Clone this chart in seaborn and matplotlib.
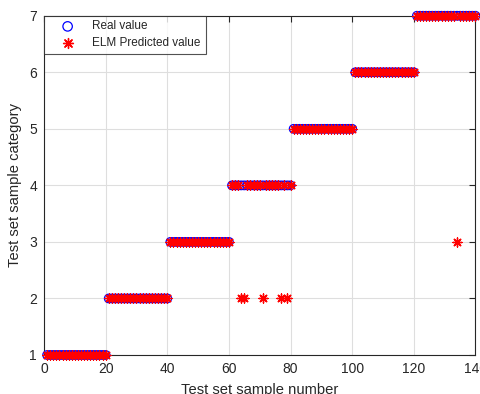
import numpy as np
import pandas as pd
import matplotlib
matplotlib.use("Agg")
import matplotlib.pyplot as plt
import seaborn as sns

# ── Data ────────────────────────────────────────────────────────
sample_no = list(range(1, 141))

real_value = (
    [1, 1, 1, 1, 1, 1, 1, 1, 1, 1, 1, 1, 1, 1, 1, 1, 1, 1, 1, 1]
    + [2, 2, 2, 2, 2, 2, 2, 2, 2, 2, 2, 2, 2, 2, 2, 2, 2, 2, 2, 2]
    + [3, 3, 3, 3, 3, 3, 3, 3, 3, 3, 3, 3, 3, 3, 3, 3, 3, 3, 3, 3]
    + [4, 4, 4, 4, 4, 4, 4, 4, 4, 4, 4, 4, 4, 4, 4, 4, 4, 4, 4, 4]
    + [5, 5, 5, 5, 5, 5, 5, 5, 5, 5, 5, 5, 5, 5, 5, 5, 5, 5, 5, 5]
    + [6, 6, 6, 6, 6, 6, 6, 6, 6, 6, 6, 6, 6, 6, 6, 6, 6, 6, 6, 6]
    + [7, 7, 7, 7, 7, 7, 7, 7, 7, 7, 7, 7, 7, 7, 7, 7, 7, 7, 7, 7]
)

predicted_value = (
    [1, 1, 1, 1, 1, 1, 1, 1, 1, 1, 1, 1, 1, 1, 1, 1, 1, 1, 1, 1]
    + [2, 2, 2, 2, 2, 2, 2, 2, 2, 2, 2, 2, 2, 2, 2, 2, 2, 2, 2, 2]
    + [3, 3, 3, 3, 3, 3, 3, 3, 3, 3, 3, 3, 3, 3, 3, 3, 3, 3, 3, 3]
    + [4, 4, 4, 2, 2, 4, 4, 4, 4, 4, 2, 4, 4, 4, 4, 4, 2, 4, 2, 4]
    + [5, 5, 5, 5, 5, 5, 5, 5, 5, 5, 5, 5, 5, 5, 5, 5, 5, 5, 5, 5]
    + [6, 6, 6, 6, 6, 6, 6, 6, 6, 6, 6, 6, 6, 6, 6, 6, 6, 6, 6, 6]
    + [7, 7, 7, 7, 7, 7, 7, 7, 7, 7, 7, 7, 7, 3, 7, 7, 7, 7, 7, 7]
)

x_ticks = [0, 20, 40, 60, 80, 100, 120, 140]
y_ticks = [1, 2, 3, 4, 5, 6, 7]

df = pd.DataFrame({"sample": sample_no,
                   "real": real_value,
                   "pred": predicted_value})

sns.set_style("white")
plt.rcParams["font.family"] = ["Liberation Sans", "DejaVu Sans"]

fig = plt.figure(figsize=(4.81, 3.94), dpi=100)
ax = fig.add_axes([0.0915, 0.099, 0.897, 0.861])

asterisk = (8, 2, 0)

sns.scatterplot(data=df, x="sample", y="real", ax=ax,
                marker="o", s=38, facecolors="none",
                edgecolor="blue", linewidth=0.9, clip_on=False,
                label="Real value", zorder=3)
sns.scatterplot(data=df, x="sample", y="pred", ax=ax,
                marker=asterisk, s=42, color="red",
                edgecolor="red", linewidth=1.0, clip_on=False,
                label="ELM Predicted value", zorder=4)

ax.set_xlim(0, 140)
ax.set_ylim(1, 7)
ax.set_xticks(x_ticks)
ax.set_yticks(y_ticks)
ax.grid(True, color="#dedede", linewidth=0.8)
ax.set_axisbelow(True)
ax.tick_params(direction="in", length=4, width=0.8, labelsize=10,
               colors="#262626", top=True, right=True,
               labeltop=False, labelright=False, pad=5)
for sp in ax.spines.values():
    sp.set_visible(True)
    sp.set_color("#262626")
    sp.set_linewidth(0.8)

ax.set_xlabel("Test set sample number", fontsize=10.6, color="#262626",
              labelpad=5)
ax.set_ylabel("Test set sample category", fontsize=10.6, color="#262626",
              labelpad=5)

leg = ax.legend(loc="upper left", borderaxespad=0, fancybox=False,
                frameon=True, fontsize=8.5, handletextpad=0.5,
                borderpad=0.4, labelspacing=0.4, handlelength=3.2,
                markerscale=1.1)
leg.get_frame().set_edgecolor("#262626")
leg.get_frame().set_linewidth(0.8)
leg.set_zorder(10)

plt.savefig("out.png", dpi=100)
plt.close()
